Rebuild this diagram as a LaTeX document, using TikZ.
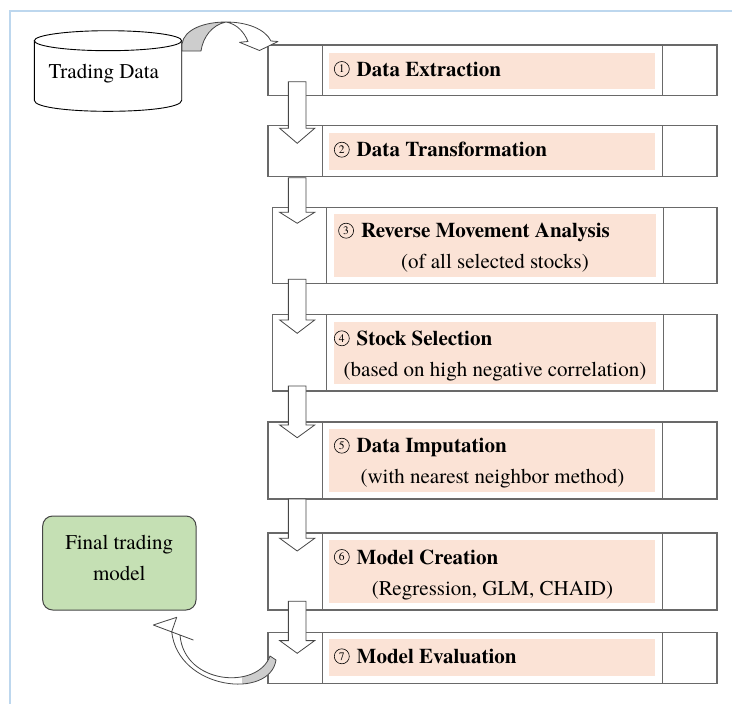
\documentclass[tikz,border=0pt]{standalone}
\usepackage{fontspec}
\setmainfont{TeX Gyre Termes}
\usetikzlibrary{calc}
\definecolor{framecol}{RGB}{189,215,238}
\definecolor{boxline}{RGB}{105,105,105}
\definecolor{pinkfill}{RGB}{251,227,214}
\definecolor{greenfill}{RGB}{197,224,180}
\definecolor{arrline}{RGB}{70,70,70}
\definecolor{arrgray}{RGB}{205,205,205}
\newcommand\bigsize{\fontsize{21}{31}\selectfont}
\newcommand\circnum[1]{\makebox[22.7pt][l]{\raisebox{-0.8pt}{\tikz\node[circle,draw=black,line width=0.6pt,minimum size=15pt,inner sep=0pt,font=\fontsize{11.5}{12}\selectfont\mdseries]{#1};}}}
\newcommand\blockarrow[3]{%
  \draw[barrow] ($(#1)+(-8.85,0)$) -- ($(#2)+(-8.85,-#3)$) -- ($(#2)+(-17.5,-#3)$)
    -- (#2) -- ($(#2)+(17.5,-#3)$) -- ($(#2)+(8.85,-#3)$) -- ($(#1)+(8.85,0)$) -- cycle;}
\def\botpath{(171.7,631.7) -- (176.7,617.3) -- (153.3,625) -- (193.3,640) -- (180,635)
  .. controls (184,685) and (258,690) .. (270,656) -- (276,660)
  .. controls (270,700) and (178,690) .. (171.7,631.7) -- cycle}
\begin{document}
\begin{tikzpicture}[x=1pt,y=-1pt,
  every node/.style={inner sep=0pt,outer sep=0pt},
  outerbox/.style={draw=boxline,line width=1.3pt,fill=white,rectangle,anchor=north west},
  pinkbox/.style={fill=pinkfill,rectangle,anchor=north west},
  divider/.style={draw=boxline,line width=1.3pt},
  barrow/.style={draw=arrline,line width=0.8pt,fill=white,line join=miter},
  curvearrow/.style={draw=arrline,line width=0.8pt,line join=round},
  finalbox/.style={draw=arrline,line width=1pt,fill=greenfill,rounded corners=10pt,rectangle,anchor=north west},
  frameline/.style={draw=framecol,line width=1.5pt},
  title/.style={anchor=base west,font=\bigsize\bfseries},
  sub/.style={anchor=base,font=\bigsize},
  plain/.style={font=\bigsize}]
\useasboundingbox (0,0) rectangle (732,704);
% frame
\draw[frameline] (10,704) -- (10,11) -- (732,11);

% cylinder
\draw[line width=0.9pt,fill=white] (34.3,40.7) -- (34.3,100.3) .. controls (34.3,115) and (181.7,115) .. (181.7,100.3) -- (181.7,40.7);
\draw[line width=0.9pt,fill=white] (108,40.7) ellipse [x radius=73.7, y radius=10];
\node[plain,anchor=base] (cyl) at (103.8,78.3) {Trading Data};

% stages
\node[outerbox,minimum width=449pt,minimum height=50.7pt] (s1) at (268,45) {};
\draw[divider] (322.3,45) -- (322.3,95.7) (662.7,45) -- (662.7,95.7);
\node[pinkbox,minimum width=326pt,minimum height=36.3pt] (p1) at (329.3,52.7) {};
\node[title] (t1) at (334,76) {\circnum{1}Data Extraction};

\node[outerbox,minimum width=449pt,minimum height=51pt] (s2) at (268,125.7) {};
\draw[divider] (322.3,125.7) -- (322.3,176.7) (662.7,125.7) -- (662.7,176.7);
\node[pinkbox,minimum width=326pt,minimum height=36.4pt] (p2) at (329.3,133.3) {};
\node[title] (t2) at (334,156.7) {\circnum{2}Data Transformation};

\node[outerbox,minimum width=444.7pt,minimum height=76pt] (s3) at (272.3,207.3) {};
\draw[divider] (326.3,207.3) -- (326.3,283.3) (663.3,207.3) -- (663.3,283.3);
\node[pinkbox,minimum width=322pt,minimum height=62.7pt] (p3) at (334,214) {};
\node[title] (t3) at (338.3,237.7) {\circnum{3}Reverse Movement Analysis};
\node[sub] (u3) at (495,268.3) {(of all selected stocks)};

\node[outerbox,minimum width=444.7pt,minimum height=76.3pt] (s4) at (272.3,314.7) {};
\draw[divider] (326.3,314.7) -- (326.3,391) (663.3,314.7) -- (663.3,391);
\node[pinkbox,minimum width=322pt,minimum height=62pt] (p4) at (334,322) {};
\node[title] (t4) at (334,345.3) {\circnum{4}Stock Selection};
\node[sub] (u4) at (495,376.7) {(based on high negative correlation)};

\node[outerbox,minimum width=449pt,minimum height=77pt] (s5) at (268,422) {};
\draw[divider] (322.3,422) -- (322.3,499) (662.7,422) -- (662.7,499);
\node[pinkbox,minimum width=326pt,minimum height=62.4pt] (p5) at (329.3,429.3) {};
\node[title] (t5) at (334,452.7) {\circnum{5}Data Imputation};
\node[sub] (u5) at (492.5,483.3) {(with nearest neighbor method)};

\node[outerbox,minimum width=449pt,minimum height=77pt] (s6) at (268,533) {};
\draw[divider] (322.3,533) -- (322.3,610) (662.7,533) -- (662.7,610);
\node[pinkbox,minimum width=326pt,minimum height=62.7pt] (p6) at (329.3,540.3) {};
\node[title] (t6) at (334,564) {\circnum{6}Model Creation};
\node[sub] (u6) at (492.5,595) {(Regression, GLM, CHAID)};

\node[outerbox,minimum width=449pt,minimum height=51pt] (s7) at (268,632.3) {};
\draw[divider] (322.3,632.3) -- (322.3,683.3) (662.7,632.3) -- (662.7,683.3);
\node[pinkbox,minimum width=326pt,minimum height=36.7pt] (p7) at (329.3,639.3) {};
\node[title] (t7) at (334,663.3) {\circnum{7}Model Evaluation};

% block arrows
\coordinate (a1s) at (297.2,81.7);  \coordinate (a1e) at (297.2,143.3);
\coordinate (a2s) at (297.2,177.7); \coordinate (a2e) at (297.2,223.3);
\coordinate (a3s) at (297.2,279.3); \coordinate (a3e) at (297.2,333.3);
\coordinate (a4s) at (297.2,386);   \coordinate (a4e) at (297.2,437.7);
\coordinate (a5s) at (297.2,499);   \coordinate (a5e) at (297.2,551);
\coordinate (a6s) at (297.2,601.3); \coordinate (a6e) at (297.2,653.3);
\blockarrow{a1s}{a1e}{15}
\blockarrow{a2s}{a2e}{11}
\blockarrow{a3s}{a3e}{13.3}
\blockarrow{a4s}{a4e}{12.7}
\blockarrow{a5s}{a5e}{12.7}
\blockarrow{a6s}{a6e}{12.7}

% final box
\node[finalbox,minimum width=153.3pt,minimum height=94pt] (final) at (42.7,516) {};
\node[plain,align=center] (finaltxt) at (119.3,558.4) {Final trading\\model};

% top curved arrow
\filldraw[curvearrow,fill=arrgray] (182,51) -- (182,44) .. controls (184,29) and (205,22) .. (226,22)
  .. controls (212,25) and (203,37) .. (201,51) -- cycle;
\filldraw[curvearrow,fill=white] (226,22) .. controls (247,22) and (265,29) .. (271,41) -- (278,41.5)
  -- (259.5,50.5) -- (239.5,42.3) -- (248,41.5) .. controls (244,32) and (237,24) .. (226,22) -- cycle;

% bottom curved arrow
\fill[white] \botpath;
\begin{scope}
  \clip \botpath;
  \fill[arrgray] (242,640) rectangle (285,700);
\end{scope}
\draw[curvearrow] \botpath;
\end{tikzpicture}
\end{document}
